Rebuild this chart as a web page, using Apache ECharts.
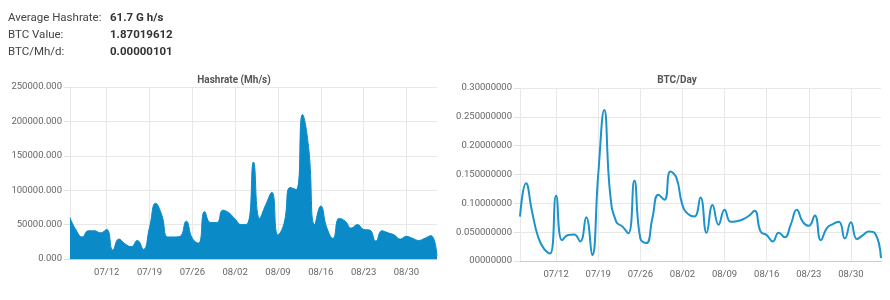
<!DOCTYPE html>
<html>
<head>
<meta charset="utf-8">
<script src="https://cdn.jsdelivr.net/npm/echarts@6/dist/echarts.min.js"></script>
<style>
  html, body { margin: 0; padding: 0; background: #fff; }
  #stats { position: absolute; left: 8px; top: 9px; font-family: Roboto, "Noto Sans", sans-serif; font-size: 11.5px; color: #444; line-height: 17px; }
  #stats .k { display: inline-block; width: 102px; }
  #stats .v { font-weight: bold; color: #333; }
  #chart { position: absolute; left: 0; top: 0; width: 890px; height: 300px; }
</style>
</head>
<body>
<div id="chart"></div>
<div id="stats">
  <div><span class="k">Average Hashrate:</span><span class="v">61.7 G h/s</span></div>
  <div><span class="k">BTC Value:</span><span class="v">1.87019612</span></div>
  <div><span class="k">BTC/Mh/d:</span><span class="v">0.00000101</span></div>
</div>
<script>
const dates = [
  '07/06','07/07','07/08','07/09','07/10','07/11','07/12','07/13','07/14','07/15',
  '07/16','07/17','07/18','07/19','07/20','07/21','07/22','07/23','07/24','07/25',
  '07/26','07/27','07/28','07/29','07/30','07/31','08/01','08/02','08/03','08/04',
  '08/05','08/06','08/07','08/08','08/09','08/10','08/11','08/12','08/13','08/14',
  '08/15','08/16','08/17','08/18','08/19','08/20','08/21','08/22','08/23','08/24',
  '08/25','08/26','08/27','08/28','08/29','08/30','08/31','09/01','09/02','09/03',
  '09/04'
];
const hashrate = [
  60000, 42000, 32000, 41000, 41000, 38000, 43000, 13000, 29000, 22000,
  18000, 27000, 14000, 46000, 81000, 64000, 32000, 32000, 33000, 55000,
  30000, 23000, 69000, 53000, 53000, 71000, 67000, 58000, 50000, 51000,
  141000, 59000, 79000, 97000, 35000, 52000, 104000, 101000, 210000, 163000,
  50000, 77000, 45000, 30000, 59000, 55000, 45000, 50000, 43000, 42000,
  26000, 41000, 38000, 35000, 29000, 33000, 30000, 27000, 30000, 34000,
  4000
];
const btcPerDay = [
  0.077, 0.135, 0.086, 0.042, 0.021, 0.013, 0.113, 0.036, 0.045, 0.046,
  0.034, 0.076, 0.010, 0.150, 0.262, 0.115, 0.068, 0.060, 0.048, 0.139,
  0.039, 0.031, 0.074, 0.115, 0.106, 0.155, 0.144, 0.097, 0.081, 0.077,
  0.110, 0.049, 0.097, 0.063, 0.089, 0.068, 0.069, 0.072, 0.078, 0.087,
  0.051, 0.045, 0.034, 0.049, 0.041, 0.063, 0.089, 0.068, 0.061, 0.079,
  0.036, 0.057, 0.064, 0.068, 0.039, 0.067, 0.038, 0.045, 0.051, 0.048,
  0.005
];
const hashTickLabels = ['0.000', '50000.000', '100000.000', '150000.000', '200000.000', '250000.000'];
const btcTickLabels = ['00000000', '0.050000000', '0.10000000', '0.150000000', '0.20000000', '0.250000000', '0.30000000'];

const FONT = 'Roboto, "Noto Sans", sans-serif';
const showTick = (i) => i >= 6 && (i - 6) % 7 === 0;

function xAxisFor(gridIndex) {
  return {
    type: 'category', gridIndex: gridIndex, data: dates, boundaryGap: false,
    axisLine: { show: true, lineStyle: { color: '#cccccc', width: 1 } },
    axisTick: { show: false },
    axisLabel: { interval: (i) => showTick(i), color: '#666', fontSize: 9.5, fontFamily: FONT, margin: 9 },
    splitLine: { show: true, interval: (i) => showTick(i), lineStyle: { color: '#e8e8e8', width: 1 } }
  };
}
function yAxisFor(gridIndex, max, interval, labels) {
  return {
    type: 'value', gridIndex: gridIndex, min: 0, max: max, interval: interval,
    axisLine: { show: true, lineStyle: { color: '#e8e8e8' } },
    axisTick: { show: true, length: 6, lineStyle: { color: '#e0e0e0' } },
    axisLabel: { color: '#666', fontSize: 9.5, fontFamily: FONT, margin: 8,
      formatter: (v) => labels[Math.round(v / interval)] },
    splitLine: { show: true, lineStyle: { color: '#e8e8e8', width: 1 } }
  };
}

const chart = echarts.init(document.getElementById('chart'), null, { renderer: 'canvas' });
chart.setOption({
  animation: false,
  title: [
    { text: 'Hashrate (Mh/s)', left: 229, top: 70, textAlign: 'center',
      textStyle: { fontSize: 10, fontWeight: 'bold', color: '#555', fontFamily: FONT } },
    { text: 'BTC/Day', left: 672, top: 70, textAlign: 'center',
      textStyle: { fontSize: 10, fontWeight: 'bold', color: '#555', fontFamily: FONT } }
  ],
  grid: [
    { left: 70, right: 453, top: 87, bottom: 41 },
    { left: 520, right: 9, top: 88, bottom: 39 }
  ],
  xAxis: [xAxisFor(0), xAxisFor(1)],
  yAxis: [
    yAxisFor(0, 250000, 50000, hashTickLabels),
    yAxisFor(1, 0.3, 0.05, btcTickLabels)
  ],
  series: [
    { type: 'line', xAxisIndex: 0, yAxisIndex: 0, data: hashrate, smooth: true, showSymbol: false,
      lineStyle: { color: '#0a8ac6', width: 1 }, itemStyle: { color: '#0a8ac6' },
      areaStyle: { color: '#0a8ac6', opacity: 1 } },
    { type: 'line', xAxisIndex: 1, yAxisIndex: 1, data: btcPerDay, smooth: true, showSymbol: false,
      lineStyle: { color: '#1c93ca', width: 2 }, itemStyle: { color: '#1c93ca' } }
  ]
});
</script>
</body>
</html>
